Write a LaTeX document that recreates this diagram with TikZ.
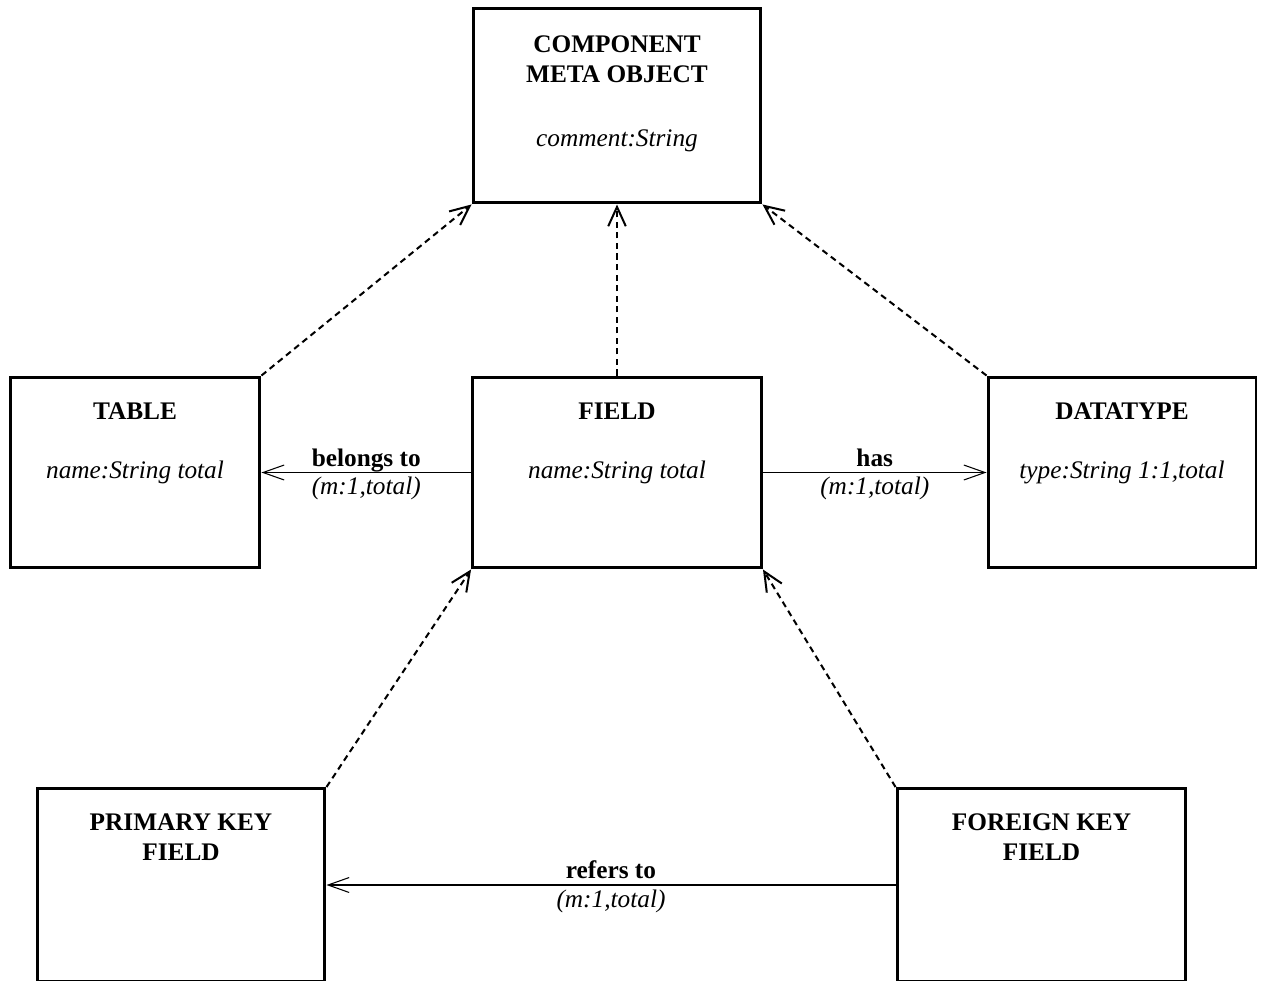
\documentclass[tikz,border=0pt]{standalone}
\usepackage{fontspec}
\setmainfont{Liberation Serif}
\usetikzlibrary{arrows.meta}

\newcommand{\erfont}{\fontsize{14.4}{17}\selectfont}

\tikzset{
  entity/.style={draw, line width=1.7pt, minimum height=3.82cm, inner sep=0pt},
  title/.style={font=\erfont\bfseries, align=center},
  attr/.style={font=\erfont\itshape},
  lbl/.style={inner sep=1pt, text depth=0.22em},
  card/.style={attr, inner sep=2.5pt},
  isa/.style={dash pattern=on 3.5pt off 2.5pt, line width=1.15pt,
    -{Straight Barb[length=11pt, width=10pt]}},
  rel/.style={line width=0.6pt, -{Straight Barb[length=12pt, width=8.5pt]}},
}

\begin{document}
\begin{tikzpicture}[x=0.02cm, y=-0.02cm]

\useasboundingbox (0,0) rectangle (1263,980);

% boxes
\node[entity, minimum width=5.76cm, minimum height=3.9cm] (cmo) at (617,105.5) {};
\node[entity, minimum width=5cm] (table) at (135,472.5) {};
\node[entity, minimum width=5.78cm] (field) at (617,472.5) {};
\node[entity, minimum width=5.36cm] (datatype) at (1122,472.5) {};
\node[entity, minimum width=5.76cm, minimum height=3.86cm] (pk) at (181,885) {};
\node[entity, minimum width=5.78cm, minimum height=3.86cm] (fk) at (1041.5,885) {};

% texts
\node[title] (cmo-name) at ([yshift=-1.06cm]cmo.north) {COMPONENT\\META OBJECT};
\node[attr] (cmo-attr) at ([yshift=-2.68cm]cmo.north) {comment:String};

\node[title] (table-name) at ([yshift=-0.72cm]table.north) {TABLE};
\node[attr] (table-attr) at (table.center) {name:String total};

\node[title] (field-name) at ([yshift=-0.72cm]field.north) {FIELD};
\node[attr] (field-attr) at (field.center) {name:String total};

\node[title] (datatype-name) at ([yshift=-0.72cm]datatype.north) {DATATYPE};
\node[attr] (datatype-attr) at (datatype.center) {type:String 1:1,total};

\node[title] (pk-name) at ([yshift=-1.0cm]pk.north) {PRIMARY KEY\\FIELD};
\node[title] (fk-name) at ([yshift=-1.0cm]fk.north) {FOREIGN KEY\\FIELD};

% generalisation
\draw[isa] (table.north east) -- (cmo.south west);
\draw[isa] (field.north) -- (cmo.south);
\draw[isa] (datatype.north west) -- (cmo.south east);
\draw[isa] (pk.north east) -- (field.south west);
\draw[isa] (fk.north west) -- (field.south east);

% relations
\draw[rel] (field.west) -- node[above, title, lbl] (belongs) {belongs to}
  node[below, card] (belongs-card) {(m:1,total)} (table.east);
\draw[rel] (field.east) -- node[above, title, lbl] (has) {has}
  node[below, card] (has-card) {(m:1,total)} (datatype.west);
\draw[rel] (fk.west) -- node[above, title, lbl] (refers) {refers to}
  node[below, card] (refers-card) {(m:1,total)} (pk.east);

\end{tikzpicture}
\end{document}
